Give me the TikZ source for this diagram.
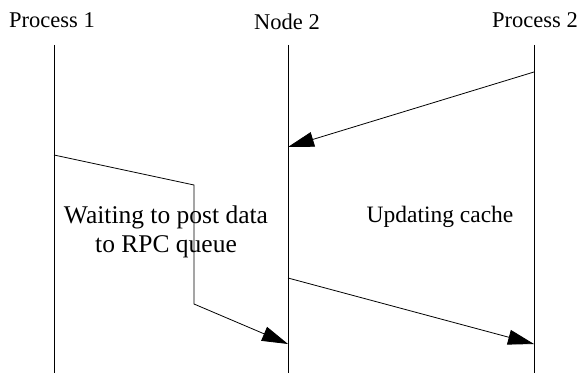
\documentclass[tikz,border=0pt]{standalone}
\usepackage{fontspec}
\setmainfont{Liberation Serif}
\usetikzlibrary{arrows.meta}

\begin{document}
\begin{tikzpicture}[
    x=1pt, y=-1pt,
    title/.style={anchor=base, inner sep=0pt, font=\fontsize{22.5}{29}\selectfont},
    note/.style={anchor=base, inner sep=0pt, align=center, font=\fontsize{23.5}{29}\selectfont},
    lifeline/.style={line width=0.8pt},
    msg/.style={line width=0.8pt, -{Triangle[length=26pt, width=15pt]}}
]
\useasboundingbox (0,0) rectangle (585,379);

\node[title] (proc1) at (52,28) {Process 1};
\node[title] (node2) at (287,30) {Node 2};
\node[title] (proc2) at (535,28) {Process 2};

\coordinate (p1top) at (54,45);
\coordinate (p1bot) at (54,373);
\coordinate (n2top) at (288,45);
\coordinate (n2bot) at (288,373);
\coordinate (p2top) at (534,45);
\coordinate (p2bot) at (534,373);

\draw[lifeline] (p1top) -- (p1bot);
\draw[lifeline] (n2top) -- (n2bot);
\draw[lifeline] (p2top) -- (p2bot);

% messages
\coordinate (updfrom) at (534,72);
\coordinate (updto) at (288,147);
\draw[msg] (updfrom) -- (updto);

\coordinate (postfrom) at (54,155);
\coordinate (postbend) at (194,185);
\coordinate (postturn) at (194,304);
\coordinate (postto) at (288,344);
\draw[msg] (postfrom) -- (postbend) -- (postturn) -- (postto);

\coordinate (replyfrom) at (288,278);
\coordinate (replyto) at (534,344);
\draw[msg] (replyfrom) -- (replyto);

% the last line's baseline is the anchor
\node[note, font=\fontsize{25.5}{29}\selectfont] (waiting) at (166,252) {Waiting to post data\\to RPC queue};
\node[note] (updating) at (440,222) {Updating cache};

\end{tikzpicture}
\end{document}
